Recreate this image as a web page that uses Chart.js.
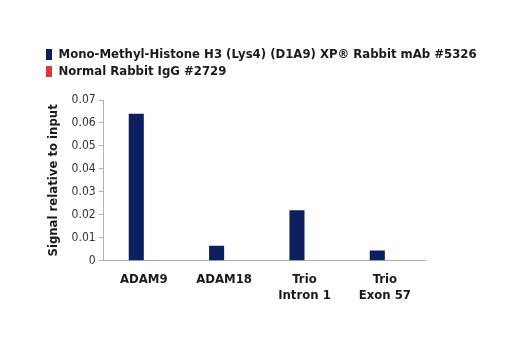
<!DOCTYPE html>
<html>
<head>
<meta charset="utf-8">
<script src="https://cdn.jsdelivr.net/npm/chart.js@4"></script>
<style>
  html, body { margin: 0; padding: 0; background: #fff; }
  #wrap { width: 520px; height: 350px; }
</style>
</head>
<body>
<div id="wrap"><canvas id="chipChart" width="520" height="350"></canvas></div>
<script>
const categories = ['ADAM9', 'ADAM18', ['Trio', 'Intron 1'], ['Trio', 'Exon 57']];
const monoMethylH3K4 = [0.064, 0.0065, 0.022, 0.0045]; // 5326
const normalRabbitIgG = [0.0003, 0, 0, 0]; // 2729
const yTicks = [0, 0.01, 0.02, 0.03, 0.04, 0.05, 0.06, 0.07];

const FONT = '"DejaVu Sans Condensed", "Liberation Sans", sans-serif';

new Chart(document.getElementById('chipChart'), {
    type: 'bar',
    data: {
        labels: categories,
        datasets: [{
            label: 'Mono-Methyl-Histone H3 (Lys4) (D1A9) XP® Rabbit mAb #5326',
            data: monoMethylH3K4,
            backgroundColor: '#0c1f5e',
            barPercentage: 1,
            categoryPercentage: 0.375
        }, {
            label: 'Normal Rabbit IgG #2729',
            data: normalRabbitIgG,
            backgroundColor: '#e2343c',
            barPercentage: 1,
            categoryPercentage: 0.375
        }]
    },
    options: {
        responsive: false,
        animation: false,
        layout: { padding: { left: 42, right: 30, top: 44, bottom: 44 } },
        scales: {
            x: {
                grid: { display: false },
                border: { display: true, color: '#b0b0b0' },
                ticks: {
                    color: '#1a1a1a',
                    font: { family: FONT, size: 13, weight: 'bold' },
                    maxRotation: 0,
                    padding: 3
                }
            },
            // empty spacer under the legend
            gap: {
                type: 'linear',
                position: 'top',
                axis: 'x',
                display: true,
                grid: { display: false },
                border: { display: false },
                ticks: { display: false },
                afterFit: axis => { axis.height = 12; }
            },
            y: {
                min: 0,
                max: 0.07,
                afterBuildTicks: axis => { axis.ticks = yTicks.map(v => ({ value: v })); },
                grid: { drawOnChartArea: false, tickLength: 5, color: '#b0b0b0' },
                border: { display: true, color: '#b0b0b0' },
                ticks: {
                    color: '#333',
                    font: { family: FONT, size: 12 },
                    padding: 3,
                    callback: v => v === 0 ? '0' : v.toFixed(2)
                },
                title: {
                    display: true,
                    text: 'Signal relative to input',
                    color: '#1a1a1a',
                    font: { family: FONT, size: 13, weight: 'bold' },
                    padding: { bottom: 7 }
                }
            },
            // empty right-hand spacer so the plot ends where the reference does
            spacer: {
                type: 'linear',
                position: 'right',
                display: true,
                grid: { display: false },
                border: { display: false },
                ticks: { display: false },
                afterFit: axis => { axis.width = 65; }
            }
        },
        plugins: {
            legend: {
                position: 'top',
                align: 'start',
                labels: {
                    color: '#1a1a1a',
                    font: { family: FONT, size: 13, weight: 'bold' },
                    boxWidth: 6,
                    boxHeight: 11,
                    padding: 4
                }
            },
            tooltip: { enabled: false }
        }
    }
});
</script>
</body>
</html>
